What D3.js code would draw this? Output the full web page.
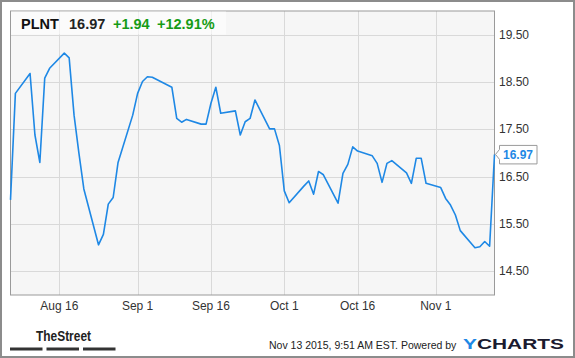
<!DOCTYPE html>
<html>
<head>
<meta charset="utf-8">
<script src="https://cdn.jsdelivr.net/npm/d3@7"></script>
<style>
  body { margin: 0; background: #fff; }
  svg { display: block; font-family: "Liberation Sans", Arial, sans-serif; }
</style>
</head>
<body>
<div id="chart-area"></div>
<script>
// Daily closes for PLNT (trading days)
const dates = [
  "2015-08-06","2015-08-07","2015-08-10","2015-08-11","2015-08-12","2015-08-13","2015-08-14",
  "2015-08-17","2015-08-18","2015-08-19","2015-08-20","2015-08-21","2015-08-24","2015-08-25",
  "2015-08-26","2015-08-27","2015-08-28","2015-08-31","2015-09-01","2015-09-02","2015-09-03",
  "2015-09-04","2015-09-08","2015-09-09","2015-09-10","2015-09-11","2015-09-14","2015-09-15",
  "2015-09-16","2015-09-17","2015-09-18","2015-09-21","2015-09-22","2015-09-23","2015-09-24",
  "2015-09-25","2015-09-28","2015-09-29","2015-09-30","2015-10-01","2015-10-02","2015-10-05",
  "2015-10-06","2015-10-07","2015-10-08","2015-10-09","2015-10-12","2015-10-13","2015-10-14",
  "2015-10-15","2015-10-16","2015-10-19","2015-10-20","2015-10-21","2015-10-22","2015-10-23",
  "2015-10-26","2015-10-27","2015-10-28","2015-10-29","2015-10-30","2015-11-02","2015-11-03",
  "2015-11-04","2015-11-05","2015-11-06","2015-11-09","2015-11-10","2015-11-11","2015-11-12",
  "2015-11-13"
];
const closes = [
  16.01, 18.26, 18.68, 17.38, 16.80, 18.58, 18.79,
  19.11, 19.01, 17.80, 16.99, 16.24, 15.06, 15.28,
  15.92, 16.06, 16.80, 17.80, 18.26, 18.51, 18.61,
  18.60, 18.39, 17.73, 17.65, 17.71, 17.61, 17.61,
  18.05, 18.39, 17.84, 17.89, 17.38, 17.66, 17.73,
  18.12, 17.51, 17.51, 17.16, 16.20, 15.95, 16.30,
  16.41, 16.13, 16.61, 16.54, 15.94, 16.57, 16.76,
  17.13, 17.04, 16.94, 16.78, 16.38, 16.78, 16.84,
  16.58, 16.36, 16.89, 16.89, 16.36, 16.27, 16.04,
  15.90, 15.69, 15.36, 15.00, 15.02, 15.13, 15.03,
  16.97
];
const xTickDates = ["2015-08-16","2015-09-01","2015-09-16","2015-10-01","2015-10-16","2015-11-01"];
const yTickValues = [14.5, 15.5, 16.5, 17.5, 18.5, 19.5];
const ticker = "PLNT";
const lastPrice = "16.97";
const change = "+1.94";
const changePct = "+12.91%";

const width = 575;
const height = 358;
const plot = { left: 10.5, right: 494.5, top: 11, bottom: 295 };

const parse = d3.timeParse("%Y-%m-%d");
const data = dates.map((d, i) => ({ date: parse(d), value: closes[i] }));

const svg = d3.select("#chart-area")
  .append("svg")
  .attr("width", width)
  .attr("height", height);

// Outer frame
svg.append("rect")
  .attr("x", 1).attr("y", 1)
  .attr("width", width - 2).attr("height", height - 2)
  .attr("fill", "#fff")
  .attr("stroke", "#8c8c8c")
  .attr("stroke-width", 2);

const x = d3.scaleTime()
  .domain([data[0].date, data[data.length - 1].date])
  .range([plot.left, plot.right]);

const y = d3.scaleLinear()
  .domain([14, 20])
  .range([plot.bottom, plot.top]);

// Plot background
svg.append("rect")
  .attr("x", plot.left).attr("y", plot.top)
  .attr("width", plot.right - plot.left)
  .attr("height", plot.bottom - plot.top)
  .attr("fill", "#f6f6f6");

// Grid lines
svg.append("g")
  .selectAll("line")
  .data(yTickValues)
  .join("line")
  .attr("x1", plot.left).attr("x2", plot.right)
  .attr("y1", d => Math.round(y(d)) + 0.5)
  .attr("y2", d => Math.round(y(d)) + 0.5)
  .attr("stroke", "#d9d9d9");

svg.append("g")
  .selectAll("line")
  .data(xTickDates.map(parse))
  .join("line")
  .attr("x1", d => Math.round(x(d)) + 0.5)
  .attr("x2", d => Math.round(x(d)) + 0.5)
  .attr("y1", plot.top).attr("y2", plot.bottom)
  .attr("stroke", "#d9d9d9");

// Plot border
svg.append("rect")
  .attr("x", plot.left).attr("y", plot.top)
  .attr("width", plot.right - plot.left)
  .attr("height", plot.bottom - plot.top)
  .attr("fill", "none")
  .attr("stroke", "#9a9a9a");

// Price line
const line = d3.line()
  .x(d => x(d.date))
  .y(d => y(d.value));

svg.append("path")
  .datum(data)
  .attr("d", line)
  .attr("fill", "none")
  .attr("stroke", "#1e88e5")
  .attr("stroke-width", 1.6)
  .attr("stroke-linejoin", "round");

// Y axis labels (right side)
svg.append("g")
  .selectAll("text")
  .data(yTickValues)
  .join("text")
  .attr("x", 499)
  .attr("y", d => y(d) + 4)
  .attr("font-size", 12)
  .attr("fill", "#333")
  .text(d => d.toFixed(2));

// X axis labels
const fmt = d3.timeFormat("%b %-d");
svg.append("g")
  .selectAll("text")
  .data(xTickDates.map(parse))
  .join("text")
  .attr("x", d => x(d))
  .attr("y", 310)
  .attr("text-anchor", "middle")
  .attr("font-size", 12)
  .attr("fill", "#333")
  .text(d => fmt(d));

// Header box
svg.append("rect")
  .attr("x", plot.left + 0.5).attr("y", plot.top + 0.5)
  .attr("width", 215).attr("height", 23)
  .attr("fill", "#fff")
  .attr("opacity", 0.6);

const header = svg.append("text")
  .attr("y", 29)
  .attr("font-size", 14.5)
  .attr("font-weight", "bold");
header.append("tspan").attr("x", 21).attr("fill", "#111").text(ticker);
header.append("tspan").attr("x", 69).attr("fill", "#222").text(lastPrice);
header.append("tspan").attr("x", 113).attr("fill", "#169b16").text(change);
header.append("tspan").attr("x", 157).attr("fill", "#169b16").text(changePct);

// Last value callout
const last = data[data.length - 1];
const ly = y(last.value);
svg.append("path")
  .attr("d", `M${x(last.date) + 1},${ly} L${499.5},${ly - 5} L${499.5},${ly - 9} L${537},${ly - 9} L${537},${ly + 9.5} L${499.5},${ly + 9.5} L${499.5},${ly + 5} Z`)
  .attr("fill", "#fff")
  .attr("stroke", "#9a9a9a");
svg.append("text")
  .attr("x", 503)
  .attr("y", ly + 4.5)
  .attr("font-size", 12)
  .attr("font-weight", "bold")
  .attr("fill", "#1e88e5")
  .text(last.value.toFixed(2));

// Footer: TheStreet logo
svg.append("text")
  .attr("x", 36)
  .attr("y", 341)
  .attr("font-size", 15)
  .attr("font-weight", "bold")
  .attr("fill", "#222")
  .attr("textLength", 55)
  .attr("lengthAdjust", "spacingAndGlyphs")
  .text("TheStreet");

svg.append("g")
  .selectAll("rect")
  .data([10, 46.5, 83])
  .join("rect")
  .attr("x", d => d)
  .attr("y", 347.5)
  .attr("width", 32.5)
  .attr("height", 3)
  .attr("fill", "#333");

// Footer: timestamp and YCharts
svg.append("text")
  .attr("x", 269)
  .attr("y", 349)
  .attr("font-size", 10.5)
  .attr("fill", "#222")
  .text("Nov 13 2015, 9:51 AM EST. Powered by");

const yc = svg.append("text")
  .attr("x", 463)
  .attr("y", 348.5)
  .attr("font-size", 15.5)
  .attr("font-weight", "900")
  .attr("textLength", 101)
  .attr("lengthAdjust", "spacingAndGlyphs");
yc.append("tspan").attr("fill", "#1e88e5").text("Y");
yc.append("tspan").attr("fill", "#1b1b2f").text("CHARTS");
</script>
</body>
</html>
